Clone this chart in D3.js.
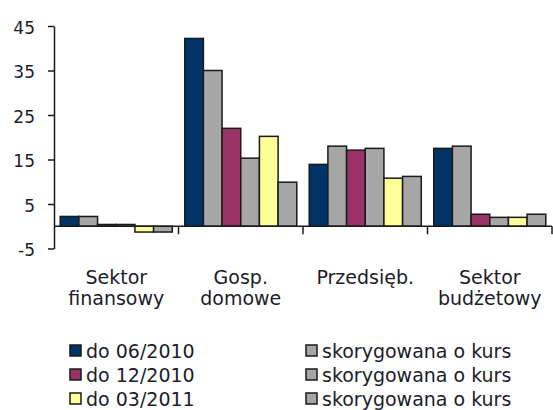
<!DOCTYPE html>
<html>
<head>
<meta charset="utf-8">
<script src="https://cdn.jsdelivr.net/npm/d3@7"></script>
<style>
  body { margin: 0; background: #fff; }
  text { font-family: "DejaVu Sans", sans-serif; fill: #1c1c2a; }
</style>
</head>
<body>
<svg id="chart" width="553" height="410"></svg>
<script>
const categories = ["Sektor finansowy", "Gosp. domowe", "Przedsięb.", "Sektor budżetowy"];
const categoryLines = [["Sektor", "finansowy"], ["Gosp.", "domowe"], ["Przedsięb."], ["Sektor", "budżetowy"]];
const seriesNames = ["do 06/2010", "skorygowana o kurs", "do 12/2010", "skorygowana o kurs ", "do 03/2011", "skorygowana o kurs  "];
const seriesColors = ["#003366", "#a6a6a6", "#993366", "#a6a6a6", "#ffff99", "#a6a6a6"];

const s0610 = [2.2, 42.2, 13.9, 17.5];
const s0610adj = [2.2, 35.0, 18.0, 18.0];
const s1210 = [0.4, 22.0, 17.1, 2.7];
const s1210adj = [0.4, 15.3, 17.5, 2.0];
const s0311 = [-1.3, 20.2, 10.8, 2.0];
const s0311adj = [-1.3, 9.9, 11.2, 2.7];
const seriesValues = [s0610, s0610adj, s1210, s1210adj, s0311, s0311adj];

const yTicks = [-5, 5, 15, 25, 35, 45];

const svg = d3.select("#chart");
const plot = { left: 54, right: 552, top: 26, bottom: 248.5 };

const y = d3.scaleLinear().domain([-5, 45]).range([plot.bottom, plot.top]);
const x0 = d3.scaleBand().domain(categories).range([plot.left, plot.right]).padding(0);
const x1 = d3.scaleBand().domain(d3.range(seriesNames.length))
    .range([0, x0.bandwidth()]).paddingInner(0).paddingOuter(1 / 3);

// bars
const groups = svg.append("g").selectAll("g")
    .data(categories)
    .join("g")
    .attr("transform", d => `translate(${x0(d)},0)`);

groups.selectAll("rect")
    .data((c, ci) => seriesValues.map((vals, si) => ({ si, v: vals[ci] })))
    .join("rect")
    .attr("x", d => x1(d.si))
    .attr("width", x1.bandwidth())
    .attr("y", d => y(Math.max(0, d.v)))
    .attr("height", d => Math.abs(y(d.v) - y(0)))
    .attr("fill", d => seriesColors[d.si])
    .attr("stroke", "#1a1a1a")
    .attr("stroke-width", 1.5);

// y axis
const yAxis = svg.append("g")
    .attr("transform", `translate(${plot.left},0)`)
    .call(d3.axisLeft(y).tickValues(yTicks).tickFormat(d => String(d))
        .tickSize(6).tickPadding(13).tickSizeOuter(0));
yAxis.select(".domain").attr("stroke", "#1a1a1a").attr("stroke-width", 1.5);
yAxis.selectAll(".tick line").attr("stroke", "#1a1a1a").attr("stroke-width", 1.5);
yAxis.selectAll(".tick text")
    .attr("font-size", 17)
    .attr("font-family", "DejaVu Sans")
    .attr("fill", "#1c1c2a")
    .attr("dy", "0.42em");

// x axis at zero, ticks on category boundaries
const zeroY = y(0);
svg.append("line")
    .attr("x1", plot.left).attr("x2", plot.right)
    .attr("y1", zeroY).attr("y2", zeroY)
    .attr("stroke", "#1a1a1a").attr("stroke-width", 1.5);
svg.append("g").selectAll("line")
    .data(categories)
    .join("line")
    .attr("x1", d => x0(d) + x0.bandwidth())
    .attr("x2", d => x0(d) + x0.bandwidth())
    .attr("y1", zeroY).attr("y2", zeroY + 8)
    .attr("stroke", "#1a1a1a").attr("stroke-width", 1.5);

// category labels
svg.append("g").selectAll("text")
    .data(categories)
    .join("text")
    .attr("text-anchor", "middle")
    .attr("font-size", 19)
    .attr("transform", d => `translate(${x0(d) + x0.bandwidth() / 2},284)`)
    .selectAll("tspan")
    .data((d, i) => categoryLines[i])
    .join("tspan")
    .attr("x", 0)
    .attr("y", (d, i) => i * 20.5)
    .text(d => d);

// legend (3 rows x 2 columns)
const legendCols = [70, 306];
const legend = svg.append("g").selectAll("g")
    .data(seriesNames)
    .join("g")
    .attr("transform", (d, i) => `translate(${legendCols[i % 2]},${345 + Math.floor(i / 2) * 24})`);
legend.append("rect")
    .attr("width", 11).attr("height", 11)
    .attr("fill", (d, i) => seriesColors[i])
    .attr("stroke", "#1a1a1a").attr("stroke-width", 1.5);
legend.append("text")
    .attr("x", 16)
    .attr("y", 13)
    .attr("font-size", 19)
    .text(d => d.trim());
</script>
</body>
</html>
